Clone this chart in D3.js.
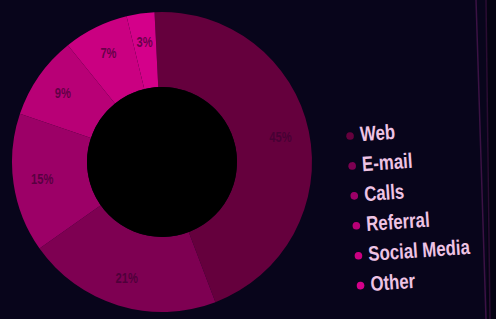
<!DOCTYPE html>
<html>
<head>
<meta charset="utf-8">
<script src="https://cdn.jsdelivr.net/npm/d3@7"></script>
<style>
  html, body { margin: 0; padding: 0; background: #08051b; }
  svg { display: block; }
</style>
</head>
<body>
<svg id="chart" width="496" height="319"></svg>
<script>
const categories = ["Web", "E-mail", "Calls", "Referral", "Social Media", "Other"];
const values = [45, 21, 15, 9, 7, 3];
const colors = ["#65003d", "#7e0052", "#9c0067", "#b80076", "#ca0081", "#d4008a"];

const W = 496, H = 319;
const svg = d3.select("#chart");
const FONT = "'Liberation Sans', Arial, sans-serif";

svg.append("rect").attr("width", W).attr("height", H).attr("fill", "#08051b");

// frame edges of the photographed screen
svg.append("rect").attr("x", 487).attr("y", 0).attr("width", 9).attr("height", H).attr("fill", "#050312");
svg.append("line").attr("x1", 476).attr("y1", 0).attr("x2", 486).attr("y2", 319)
  .attr("stroke", "#3b1244").attr("stroke-width", 1.5);
svg.append("line").attr("x1", 486).attr("y1", 0).attr("x2", 490).attr("y2", 319)
  .attr("stroke", "#2a0c32").attr("stroke-width", 1.5);

const cx = 162, cy = 162, rOuter = 150, rInner = 75;
const g = svg.append("g").attr("transform", `translate(${cx},${cy})`);

const pie = d3.pie().sort(null).value(d => d.value).startAngle(-0.05).endAngle(2 * Math.PI - 0.05);
const data = categories.map((c, i) => ({ cat: c, value: values[i], color: colors[i] }));
const arcs = pie(data);

const arc = d3.arc().innerRadius(rInner).outerRadius(rOuter);
const labelArc = d3.arc().innerRadius(121).outerRadius(121);

g.selectAll("path.slice").data(arcs).join("path")
  .attr("class", "slice")
  .attr("d", arc)
  .attr("fill", d => d.data.color);

g.append("circle").attr("r", rInner).attr("fill", "#000000");

g.selectAll("text.pct").data(arcs).join("text")
  .attr("class", "pct")
  .attr("transform", d => `translate(${labelArc.centroid(d)}) scale(0.8,1)`)
  .attr("text-anchor", "middle")
  .attr("dy", "0.35em")
  .attr("font-family", FONT)
  .attr("font-weight", "bold")
  .attr("font-size", 14)
  .attr("fill", "#3a0030")
  .attr("fill-opacity", 0.7)
  .text(d => d.data.value + "%");

// legend
const legend = svg.append("g").attr("transform", "translate(350,135) rotate(-4)");
const rowH = 30;
const items = legend.selectAll("g.item").data(data).join("g")
  .attr("class", "item")
  .attr("transform", (d, i) => `translate(0,${i * rowH})`);

items.append("circle").attr("r", 3.8).attr("cx", 0).attr("cy", 1).attr("fill", d => d.color);
items.append("text")
  .attr("transform", "translate(10,7) scale(0.8,1)")
  .attr("font-family", FONT)
  .attr("font-weight", "bold")
  .attr("font-size", 21)
  .attr("fill", "#eec3e4")
  .text(d => d.cat);
</script>
</body>
</html>
